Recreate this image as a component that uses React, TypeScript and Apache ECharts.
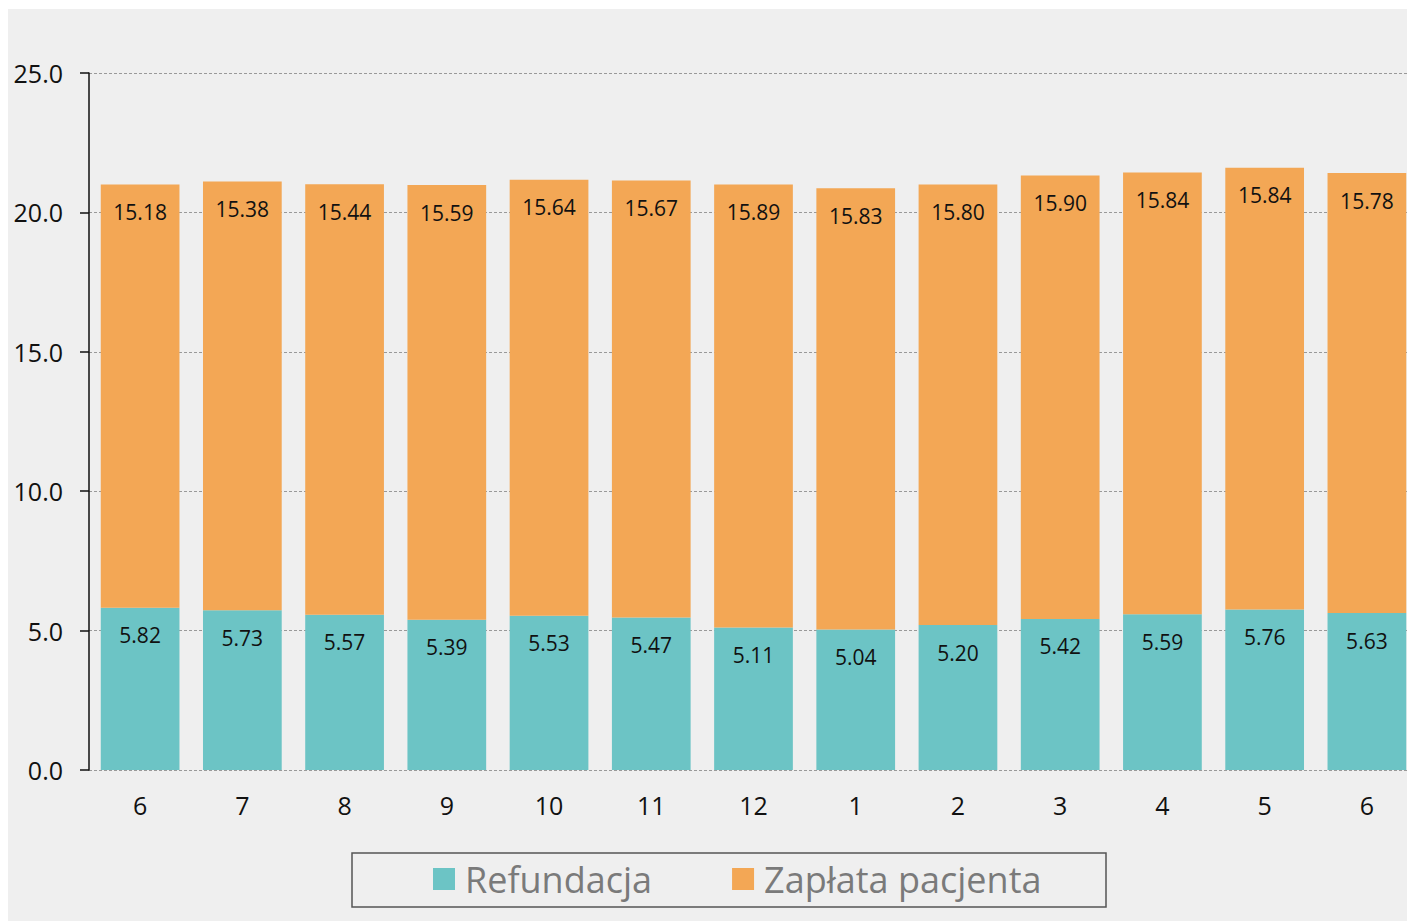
import React, { useEffect, useRef } from "react";
import * as echarts from "echarts";

const categories = ["6", "7", "8", "9", "10", "11", "12", "1", "2", "3", "4", "5", "6"];
const refundacja = [5.82, 5.73, 5.57, 5.39, 5.53, 5.47, 5.11, 5.04, 5.2, 5.42, 5.59, 5.76, 5.63];
const zaplata = [15.18, 15.38, 15.44, 15.59, 15.64, 15.67, 15.89, 15.83, 15.8, 15.9, 15.84, 15.84, 15.78];
const seriesNames = ["Refundacja", "Zapłata pacjenta"];

const FONT = "'Open Sans', 'Noto Sans', sans-serif";

export default function App() {
  const ref = useRef<HTMLDivElement>(null);
  useEffect(() => {
    document.documentElement.style.overflow = "hidden";
    document.body.style.overflow = "hidden";
    const chart = echarts.init(ref.current!, null, { renderer: "svg" });
    const label = {
      show: true,
      position: "insideTop",
      distance: 17,
      color: "#111",
      fontSize: 21,
      fontFamily: FONT,
      formatter: (p: any) => Number(p.value).toFixed(2),
    };
    chart.setOption({
      animation: false,
      backgroundColor: "#efefef",
      textStyle: { fontFamily: FONT },
      grid: { left: 81, top: 64, width: 1329, height: 697 },
      legend: {
        data: seriesNames,
        left: 420,
        top: 847,
        itemWidth: 22,
        itemHeight: 22,
        itemGap: 80,
        icon: "rect",
        textStyle: { fontSize: 36, color: "#7a7a7a", fontFamily: FONT, padding: [0, 0, 0, 5] },
      },
      graphic: [
        {
          type: "rect",
          shape: { x: 344, y: 844, width: 754, height: 54 },
          style: { fill: "none", stroke: "#555", lineWidth: 1.5 },
          z: 10,
        },
      ],
      xAxis: {
        type: "category",
        data: categories,
        axisLine: { show: false },
        axisTick: { show: false },
        axisLabel: { fontSize: 25, color: "#111", margin: 22, fontFamily: FONT },
      },
      yAxis: {
        type: "value",
        min: 0,
        max: 25,
        interval: 5,
        axisLine: { show: true, lineStyle: { color: "#111", width: 1.5 } },
        axisTick: { show: true, length: 9, lineStyle: { color: "#111", width: 1.5 } },
        axisLabel: {
          fontSize: 25,
          color: "#111",
          margin: 26,
          fontFamily: FONT,
          formatter: (v: number) => v.toFixed(1),
        },
        splitLine: { show: true, lineStyle: { color: "#999", type: [3, 2], width: 1 } },
      },
      series: [
        {
          name: seriesNames[0],
          type: "bar",
          stack: "total",
          data: refundacja,
          barCategoryGap: "23%",
          itemStyle: { color: "#6cc4c5" },
          label,
        },
        {
          name: seriesNames[1],
          type: "bar",
          stack: "total",
          data: zaplata,
          barCategoryGap: "23%",
          itemStyle: { color: "#f3a755" },
          label,
        },
      ],
    });
    return () => chart.dispose();
  }, []);
  return (
    <div
      ref={ref}
      style={{ position: "fixed", left: 8, top: 9, width: 1420, height: 920 }}
    />
  );
}
